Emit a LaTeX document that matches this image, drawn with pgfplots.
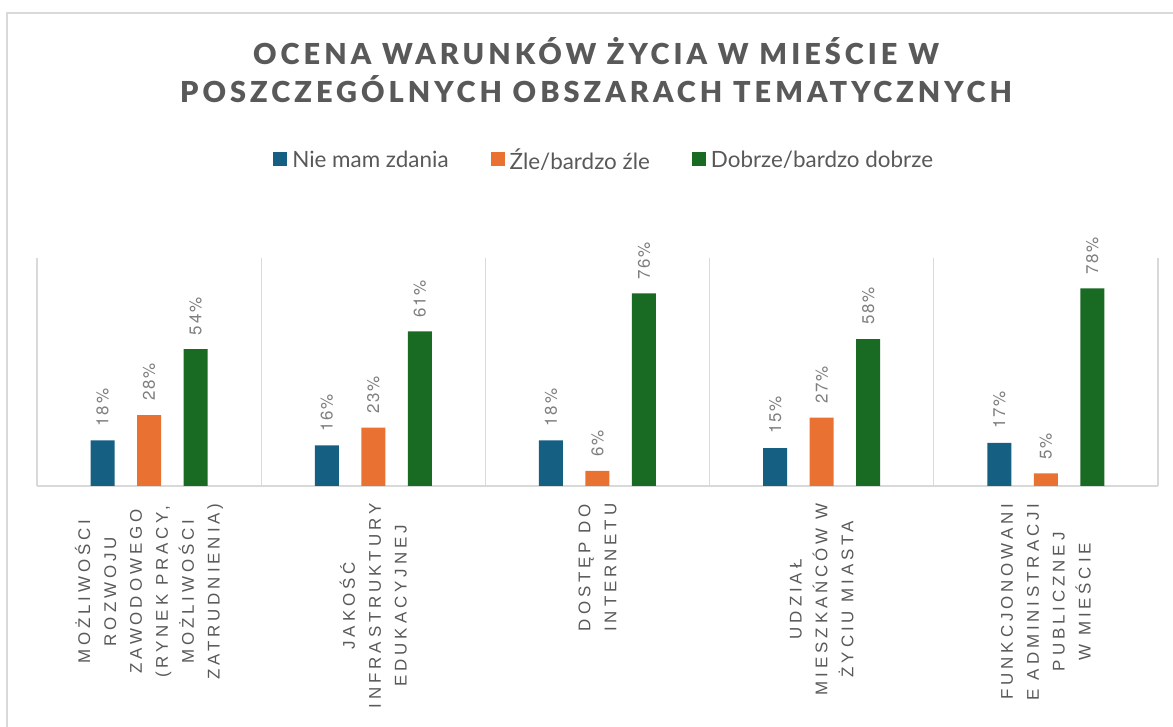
\documentclass[border=0pt]{standalone}
\usepackage{pgfplots}
\pgfplotsset{compat=1.18}
\usepackage{fontspec}
\setmainfont{Lato}
\newfontfamily\titlefont[LetterSpace=14]{Lato Black}
\newfontfamily\tickfont[LetterSpace=23]{Liberation Sans}
\newfontfamily\labfont[LetterSpace=10]{TeX Gyre Heros}
\definecolor{cblue}{HTML}{156082}
\definecolor{corange}{HTML}{E97132}
\definecolor{cgreen}{HTML}{196B24}
\definecolor{ctext}{HTML}{595959}
\definecolor{clab}{HTML}{7F7F7F}
\definecolor{cgrid}{HTML}{D9D9D9}
\pgfplotsset{mylegend/.style={legend image code/.code={\fill[##1] (0bp,-6bp) rectangle (14bp,8bp);}}}
\begin{document}
\begin{tikzpicture}
\useasboundingbox (0,0) rectangle (1173bp,727bp);
\draw[cgrid, line width=1.5bp] (7bp,0bp) -- (7bp,714bp) -- (1173bp,714bp);
\node[anchor=base, text=ctext, font=\titlefont\fontsize{29}{34}\selectfont] at (596bp,662bp) {OCENA WARUNKÓW ŻYCIA W MIEŚCIE W};
\node[anchor=base, text=ctext, font=\titlefont\fontsize{29}{34}\selectfont] at (596bp,624bp) {POSZCZEGÓLNYCH OBSZARACH TEMATYCZNYCH};
\begin{axis}[
  at={(37bp,241bp)}, anchor=south west,
  scale only axis, width=1121bp, height=228bp,
  xmin=-0.5, xmax=4.5, ymin=0, ymax=90,
  ybar=22.5bp, bar width=24bp,
  axis y line=none,
  axis x line*=bottom,
  x axis line style={draw=cgrid, line width=1.5bp, -},
  xtick={0,1,2,3,4},
  major tick length=0pt,
  xticklabels={{MOŻLIWOŚCI\\ROZWOJU\\ZAWODOWEGO\\(RYNEK PRACY,\\MOŻLIWOŚCI\\ZATRUDNIENIA)},
    {JAKOŚĆ\\INFRASTRUKTURY\\EDUKACYJNEJ},
    {DOSTĘP DO\\INTERNETU},
    {UDZIAŁ\\MIESZKAŃCÓW W\\ŻYCIU MIASTA},
    {FUNKCJONOWANI\\E ADMINISTRACJI\\PUBLICZNEJ\\W MIEŚCIE}},
  xticklabel style={xshift=0bp, yshift=-14bp, rotate=90, anchor=east, align=center, text=ctext,
    font=\tickfont\fontsize{17}{26}\selectfont},
  extra x ticks={-0.5,0.5,1.5,2.5,3.5,4.5},
  extra x tick labels={},
  extra x tick style={grid=major, major grid style={draw=cgrid, line width=1.2bp}},
  legend columns=3,
  legend style={draw=none, fill=none, at={(0.506,1.43)}, anchor=center,
    font=\fontsize{22.5}{26}\selectfont, text=ctext,
    /tikz/every even column/.append style={column sep=40bp},
    /tikz/every odd column/.append style={column sep=3bp}},
  legend cell align=left,
  point meta=y,
  nodes near coords={\pgfmathprintnumber[assume math mode=true]{\pgfplotspointmeta}\%},
  every node near coord/.append style={rotate=90, anchor=west, text=clab,
    font=\labfont\fontsize{17}{20}\selectfont, inner xsep=14bp},
]
\addplot[mylegend, fill=cblue, draw=none]
  coordinates {(0,18) (1,16) (2,18) (3,15) (4,17)};
\addplot[mylegend, fill=corange, draw=none]
  coordinates {(0,28) (1,23) (2,6) (3,27) (4,5)};
\addplot[mylegend, fill=cgreen, draw=none]
  coordinates {(0,54) (1,61) (2,76) (3,58) (4,78)};
\legend{Nie mam zdania, Źle/bardzo źle, Dobrze/bardzo dobrze}
\end{axis}
\end{tikzpicture}
\end{document}
